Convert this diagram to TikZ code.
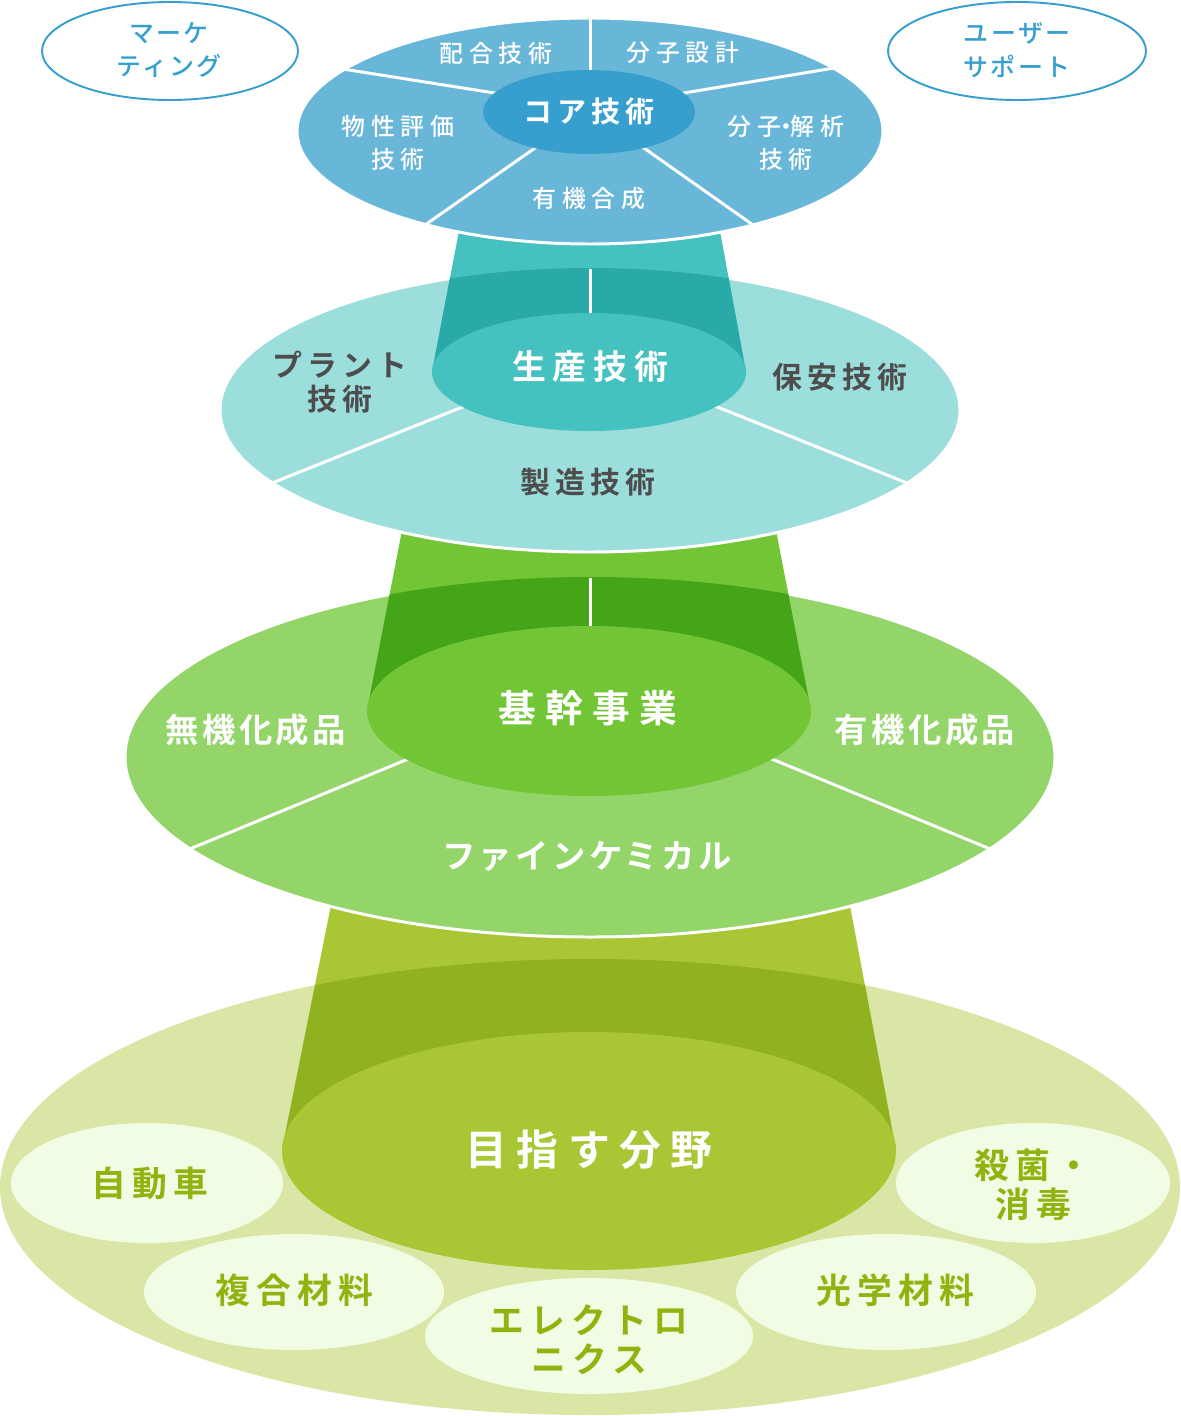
\documentclass[tikz,border=0pt]{standalone}
\usepackage{fontspec}
\setmainfont{Noto Sans CJK JP}[BoldFont={Noto Sans CJK JP Bold}]
\newfontfamily\jpmedium{Noto Sans CJK JP Medium}

\definecolor{coreblue}{HTML}{369FCD}
\definecolor{topblue}{HTML}{68B6D8}
\definecolor{prodmid}{HTML}{45C1C0}
\definecolor{prodlight}{HTML}{9CDEDC}
\definecolor{proddark}{HTML}{29A9A7}
\definecolor{basemid}{HTML}{72C535}
\definecolor{baselight}{HTML}{93D569}
\definecolor{basedark}{HTML}{43A517}
\definecolor{fieldmid}{HTML}{A9C734}
\definecolor{fieldlight}{HTML}{DAE6A6}
\definecolor{fielddark}{HTML}{90B120}
\definecolor{fieldpale}{HTML}{F1FCE4}
\definecolor{fieldtext}{HTML}{8FB40F}
\definecolor{labelgray}{HTML}{4D4D4D}

\begin{document}
\begin{tikzpicture}[
        x=0.02cm, y=-0.02cm,
        sep/.style={white, line width=1.7pt},
        rim/.style={draw=white, line width=1.7pt},
        sideoval/.style={draw=coreblue, line width=1.1pt, fill=white},
        sidelbl/.style={text=coreblue, align=center, inner sep=0pt,
          font=\jpmedium\fontsize{14.2}{19.3}\selectfont\addfontfeature{LetterSpace=10}},
        toplbl/.style={text=white, align=center, inner sep=0pt,
          font=\jpmedium\fontsize{13.6}{18.7}\selectfont\addfontfeature{LetterSpace=25}},
        corelbl/.style={text=white, inner sep=0pt,
          font=\fontsize{16.5}{20}\bfseries\addfontfeature{LetterSpace=18}},
        graylbl/.style={text=labelgray, align=center, inner sep=0pt,
          font=\fontsize{17}{19.8}\bfseries\addfontfeature{LetterSpace=18}},
        hublbl/.style={text=white, inner sep=0pt,
          font=\fontsize{19.3}{22}\bfseries\addfontfeature{LetterSpace=20}},
        bizlbl/.style={text=white, inner sep=0pt,
          font=\fontsize{19}{22}\bfseries\addfontfeature{LetterSpace=10}},
        kikanlbl/.style={text=white, inner sep=0pt,
          font=\fontsize{21.5}{24}\bfseries\addfontfeature{LetterSpace=25}},
        goallbl/.style={text=white, inner sep=0pt,
          font=\fontsize{23.8}{26}\bfseries\addfontfeature{LetterSpace=23}},
        fieldlbl/.style={text=fieldtext, align=center, inner sep=0pt,
          font=\fontsize{19.8}{22.2}\bfseries\addfontfeature{LetterSpace=18}}
      ]
        \useasboundingbox (0,0) rectangle (1180,1416);

        % target fields
        \fill[fieldlight] (590,1187) ellipse [x radius=590, y radius=228];
        \fill[fieldmid] (334,890) -- (847,890) -- (896,1150) -- (282,1150) -- cycle;
        \begin{scope}
          \clip (590,1187) ellipse [x radius=590, y radius=228];
          \fill[fielddark] (334,890) -- (847,890) -- (896,1150) -- (282,1150) -- cycle;
        \end{scope}
        \fill[fieldmid] (589,1151) ellipse [x radius=307, y radius=119];
        \foreach \cx/\cy/\rx/\ry in {147/1183/136/60, 294/1292/150/58,
            589/1336/164/58, 886/1292/150/58, 1033/1183/137/60}
          \fill[fieldpale] (\cx,\cy) ellipse [x radius=\rx, y radius=\ry];

        % core business
        \filldraw[fill=baselight, rim] (590,757) ellipse [x radius=465, y radius=180];
        \fill[basemid] (405,515) -- (773,515) -- (811,711) -- (367,711) -- cycle;
        \begin{scope}
          \clip (590,757) ellipse [x radius=465, y radius=180];
          \fill[basedark] (405,515) -- (773,515) -- (811,711) -- (367,711) -- cycle;
        \end{scope}
        \draw[sep] (590,578) -- (590,640);
        \draw[sep] (180,853) -- (430,750);
        \draw[sep] (1000,853) -- (750,750);
        \fill[basemid] (589,711) ellipse [x radius=222, y radius=85];

        % production technology
        \filldraw[fill=prodlight, rim] (590,410) ellipse [x radius=370, y radius=142];
        \fill[prodmid] (462,215) -- (717,215) -- (746,372) -- (432,372) -- cycle;
        \begin{scope}
          \clip (590,410) ellipse [x radius=370, y radius=142];
          \fill[proddark] (462,215) -- (717,215) -- (746,372) -- (432,372) -- cycle;
        \end{scope}
        \draw[sep] (590,269) -- (590,325);
        \draw[sep] (262,487) -- (480,400);
        \draw[sep] (917,487) -- (700,400);
        \fill[prodmid] (589,372) ellipse [x radius=157, y radius=59];

        % core technology
        \filldraw[fill=topblue, rim] (590,131) ellipse [x radius=293, y radius=113];
        \draw[sep] (590,10) -- (590,80);
        \draw[sep] (330,67) -- (520,97);
        \draw[sep] (846,66) -- (660,97);
        \draw[sep] (415,232) -- (555,134);
        \draw[sep] (763,232) -- (624,134);
        \fill[coreblue] (589,112) ellipse [x radius=106, y radius=42];

        \draw[sideoval] (170,51) ellipse [x radius=128, y radius=49];
        \draw[sideoval] (1017,51) ellipse [x radius=129, y radius=49];

        \node[sidelbl] (mkt) at (169,50) {マーケ\\ティング};
        \node[sidelbl] (usr) at (1017,50) {ユーザー\\サポート};
        \node[toplbl] (haigo) at (496,53) {配合技術};
        \node[toplbl] (bunshi) at (683,53) {分子設計};
        \node[toplbl] (bussei) at (398,143) {物性評価\\技術};
        \node[toplbl] (kaiseki) at (786,143) {分子\kern-0.3em・\kern-0.3em解析\\技術};
        \node[toplbl] (yuki) at (589,199) {有機合成};
        \node[corelbl] (core) at (589,111) {コア技術};

        \node[graylbl] (plant) at (340,382) {プラント\\技術};
        \node[hublbl] (seisan) at (590,367) {生産技術};
        \node[graylbl] (hoan) at (840,377) {保安技術};
        \node[graylbl] (seizo) at (588,482) {製造技術};

        \node[bizlbl] (muki) at (256,730) {無機化成品};
        \node[kikanlbl] (kikan) at (588,708) {基幹事業};
        \node[bizlbl] (yukika) at (925,730) {有機化成品};
        \node[bizlbl] (fine) at (587,857) {ファインケミカル};

        \node[goallbl] (mezasu) at (589,1150) {目指す分野};
        \node[fieldlbl] (car) at (150,1183) {自動車};
        \node[fieldlbl] (composite) at (294,1290) {複合材料};
        \node[fieldlbl] (elec) at (589,1340) {エレクトロ\\ニクス};
        \node[fieldlbl] (optic) at (895,1290) {光学材料};
        \node[fieldlbl] (steril) at (1033,1185) {殺菌・\\消毒};
      \end{tikzpicture}
\end{document}
